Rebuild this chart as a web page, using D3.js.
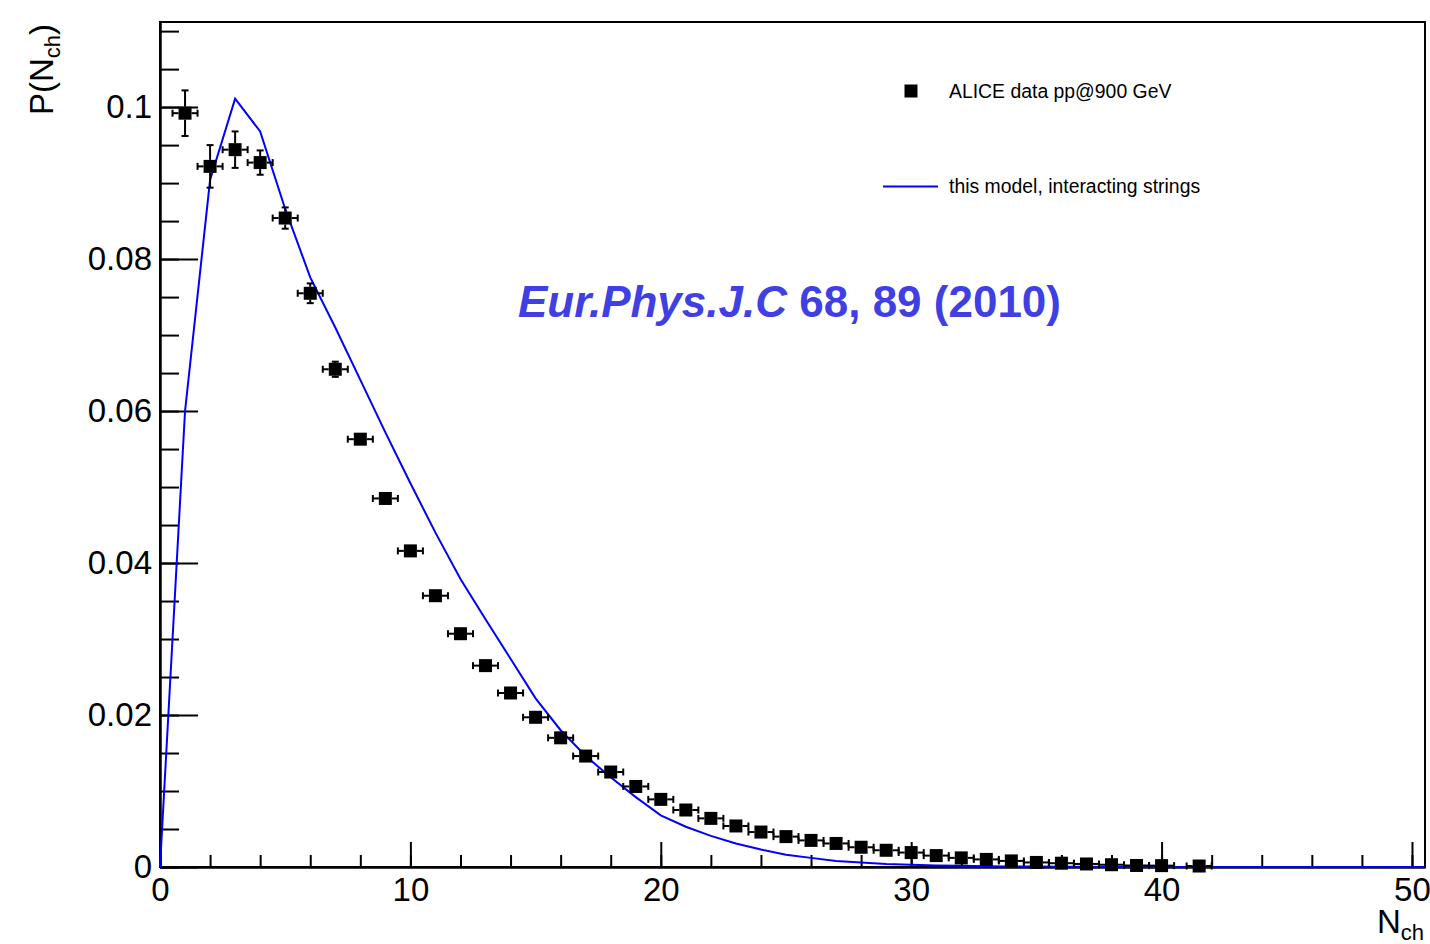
<!DOCTYPE html>
<html>
<head>
<meta charset="utf-8">
<script src="https://cdn.jsdelivr.net/npm/d3@7"></script>
<style>
  body { margin: 0; background: #fff; }
  text { font-family: "Liberation Sans", Arial, Helvetica, sans-serif; }
</style>
</head>
<body>
<div id="chart"></div>
<script>
// Data
// ALICE data points: N_ch, P(N_ch), vertical error
var dataN = [1, 2, 3, 4, 5, 6, 7, 8, 9, 10, 11, 12, 13, 14, 15, 16, 17, 18, 19, 20,
  21, 22, 23, 24, 25, 26, 27, 28, 29, 30, 31, 32, 33, 34, 35, 36, 37, 38, 39, 40, 41.5];
var dataP = [0.0992, 0.0922, 0.0944, 0.0927, 0.0854, 0.0755, 0.0655, 0.0563, 0.0485, 0.0416,
  0.0357, 0.0307, 0.0265, 0.0229, 0.0197, 0.0170, 0.0146, 0.0125, 0.0106, 0.0089,
  0.0075, 0.0064, 0.0054, 0.0046, 0.0040, 0.0035, 0.0031, 0.0026, 0.0022, 0.0019,
  0.0015, 0.0012, 0.0010, 0.0008, 0.0006, 0.0005, 0.0004, 0.0003, 0.0002, 0.00018, 0.00013];
var dataErr = [0.0030, 0.0028, 0.0024, 0.0016, 0.0014, 0.0013, 0.0010, 0.0008, 0.0007, 0.0006,
  0.0005, 0.0005, 0.0004, 0.0004, 0.0003, 0.0003, 0.0003, 0.0002, 0.0002, 0.0002,
  0.0002, 0.0002, 0.0001, 0.0001, 0.0001, 0.0001, 0.0001, 0.0001, 0.0001, 0.0001,
  0.0001, 0.0001, 0.0001, 0.0001, 0.0001, 0.0001, 0.0001, 0.0001, 0.0001, 0.0001, 0.0001];
var binHalf = 0.5;

// model curve (interacting strings)
var modelN = [0, 1, 2, 3, 4, 5, 6, 7, 8, 9, 10, 11, 12, 13, 14, 15, 16, 17, 18, 19, 20,
  21, 22, 23, 24, 25, 26, 27, 28, 29, 30, 31, 32, 33, 34, 35, 36, 37, 38, 39, 40,
  41, 42, 43, 44, 45, 46, 47, 48, 49, 50, 50.5];
var modelP = [0, 0.0600, 0.0904, 0.1011, 0.0968, 0.0866, 0.0776, 0.0710, 0.0641, 0.0572, 0.0505,
  0.0440, 0.0379, 0.0326, 0.0274, 0.0222, 0.0180, 0.0146, 0.0118, 0.0092, 0.0068,
  0.0053, 0.0041, 0.0031, 0.0023, 0.0016, 0.0012, 0.0008, 0.0006, 0.0004, 0.0003,
  0.0002, 0.00015, 0.0001, 0.00007, 0.00005, 0.00003, 0.00002, 0.00001, 0, 0,
  0, 0, 0, 0, 0, 0, 0, 0, 0, 0, 0];

var xMajorTicks = [0, 10, 20, 30, 40, 50];
var yMajorTicks = [0, 0.02, 0.04, 0.06, 0.08, 0.1];
var yTickLabels = ["0", "0.02", "0.04", "0.06", "0.08", "0.1"];

var legendLabels = ["ALICE data pp@900 GeV", "this model, interacting strings"];

function makeChart() {

  var svgWidth = 1430;
  var svgHeight = 944;

  var margin = { top: 22, right: 5, bottom: 77, left: 160 };

  var width = svgWidth - margin.left - margin.right;
  var height = svgHeight - margin.top - margin.bottom;

  var svg = d3.select("#chart")
    .append("svg")
    .attr("width", svgWidth)
    .attr("height", svgHeight);

  var chartGroup = svg.append("g")
    .attr("transform", `translate(${margin.left}, ${margin.top})`);

  // Scales
  var xScale = d3.scaleLinear().domain([0, 50.52]).range([0, width]);
  var yScale = d3.scaleLinear().domain([0, 0.1112]).range([height, 0]);

  // Frame
  chartGroup.append("rect")
    .attr("x", 0).attr("y", 0)
    .attr("width", width).attr("height", height)
    .attr("fill", "none")
    .attr("stroke", "#000")
    .attr("stroke-width", 2);

  // Minor ticks (ticks point inward, like ROOT)
  var xMinor = d3.range(0, 51, 2);
  var yMinor = d3.range(0, 0.1101, 0.005);

  chartGroup.append("g")
    .attr("class", "x-minor")
    .attr("transform", `translate(0, ${height})`)
    .call(d3.axisBottom(xScale).tickValues(xMinor).tickSizeInner(-12).tickSizeOuter(0).tickFormat(""));

  chartGroup.append("g")
    .attr("class", "y-minor")
    .call(d3.axisLeft(yScale).tickValues(yMinor).tickSizeInner(-19).tickSizeOuter(0).tickFormat(""));

  // Major ticks + labels
  chartGroup.append("g")
    .attr("class", "x-major")
    .attr("transform", `translate(0, ${height})`)
    .call(d3.axisBottom(xScale).tickValues(xMajorTicks).tickSizeInner(-25).tickSizeOuter(0).tickPadding(11));

  chartGroup.append("g")
    .attr("class", "y-major")
    .call(d3.axisLeft(yScale).tickValues(yMajorTicks).tickSizeInner(-38).tickSizeOuter(0).tickPadding(8)
      .tickFormat((d, i) => yTickLabels[i]));

  chartGroup.selectAll(".domain, .tick line")
    .attr("stroke", "#000")
    .attr("stroke-width", 2);

  chartGroup.selectAll(".tick text")
    .attr("fill", "#000")
    .attr("font-size", "33px")
    .style("font-family", "'Liberation Sans', Arial, Helvetica, sans-serif");

  // Model line
  var line = d3.line()
    .x((d, i) => xScale(modelN[i]))
    .y(d => yScale(d));

  chartGroup.append("path")
    .datum(modelP)
    .attr("d", line)
    .attr("fill", "none")
    .attr("stroke", "#0000ff")
    .attr("stroke-width", 2);

  // Data points with error bars
  var points = dataN.map((n, i) => ({ n: n, p: dataP[i], e: dataErr[i] }));
  var half = 6.5;
  var cap = 3.5;

  var errGroup = chartGroup.append("g")
    .attr("stroke", "#000")
    .attr("stroke-width", 2);

  points.forEach(function (d) {
    var cx = xScale(d.n);
    var cy = yScale(d.p);
    var xl = xScale(d.n - binHalf);
    var xr = xScale(d.n + binHalf);
    // horizontal bars
    errGroup.append("line").attr("x1", xl).attr("x2", cx - half).attr("y1", cy).attr("y2", cy);
    errGroup.append("line").attr("x1", cx + half).attr("x2", xr).attr("y1", cy).attr("y2", cy);
    errGroup.append("line").attr("x1", xl).attr("x2", xl).attr("y1", cy - cap).attr("y2", cy + cap);
    errGroup.append("line").attr("x1", xr).attr("x2", xr).attr("y1", cy - cap).attr("y2", cy + cap);
    // vertical bars, only outside the marker
    var yt = yScale(d.p + d.e);
    var yb = yScale(d.p - d.e);
    if (cy - yt > half) {
      errGroup.append("line").attr("x1", cx).attr("x2", cx).attr("y1", yt).attr("y2", cy - half);
      errGroup.append("line").attr("x1", cx).attr("x2", cx).attr("y1", cy + half).attr("y2", yb);
      errGroup.append("line").attr("x1", cx - cap).attr("x2", cx + cap).attr("y1", yt).attr("y2", yt);
      errGroup.append("line").attr("x1", cx - cap).attr("x2", cx + cap).attr("y1", yb).attr("y2", yb);
    }
  });

  chartGroup.selectAll("rect.marker")
    .data(points)
    .enter()
    .append("rect")
    .attr("class", "marker")
    .attr("x", d => xScale(d.n) - half)
    .attr("y", d => yScale(d.p) - half)
    .attr("width", half * 2)
    .attr("height", half * 2)
    .attr("fill", "#000");

  // Legend
  svg.append("rect")
    .attr("x", 911 - half).attr("y", 91 - half)
    .attr("width", half * 2).attr("height", half * 2)
    .attr("fill", "#000");
  svg.append("text")
    .attr("x", 949).attr("y", 98)
    .attr("font-size", "19.4px")
    .attr("fill", "#000")
    .text(legendLabels[0]);

  svg.append("line")
    .attr("x1", 883).attr("x2", 938)
    .attr("y1", 186.5).attr("y2", 186.5)
    .attr("stroke", "#0000ff")
    .attr("stroke-width", 2);
  svg.append("text")
    .attr("x", 949).attr("y", 193)
    .attr("font-size", "19.4px")
    .attr("fill", "#000")
    .text(legendLabels[1]);

  // Journal reference
  var ref = svg.append("text")
    .attr("x", 518).attr("y", 317)
    .attr("font-size", "44px")
    .attr("font-weight", "bold")
    .attr("fill", "#3f3fe4");
  ref.append("tspan").attr("font-style", "italic").text("Eur.Phys.J.C");
  ref.append("tspan").text(" 68, 89 (2010)");

  // Axis titles
  var xTitle = svg.append("text")
    .attr("x", 1424).attr("y", 933)
    .attr("text-anchor", "end")
    .attr("font-size", "33px")
    .attr("fill", "#000");
  xTitle.append("tspan").text("N");
  xTitle.append("tspan").attr("font-size", "22px").attr("dy", 7).text("ch");

  var yTitle = svg.append("text")
    .attr("transform", "translate(53, 24) rotate(-90)")
    .attr("x", 0).attr("y", 0)
    .attr("text-anchor", "end")
    .attr("font-size", "33px")
    .attr("fill", "#000");
  yTitle.append("tspan").text("P(N");
  yTitle.append("tspan").attr("font-size", "22px").attr("dy", 7).text("ch");
  yTitle.append("tspan").attr("dy", -7).text(")");
}

makeChart();
</script>
</body>
</html>
